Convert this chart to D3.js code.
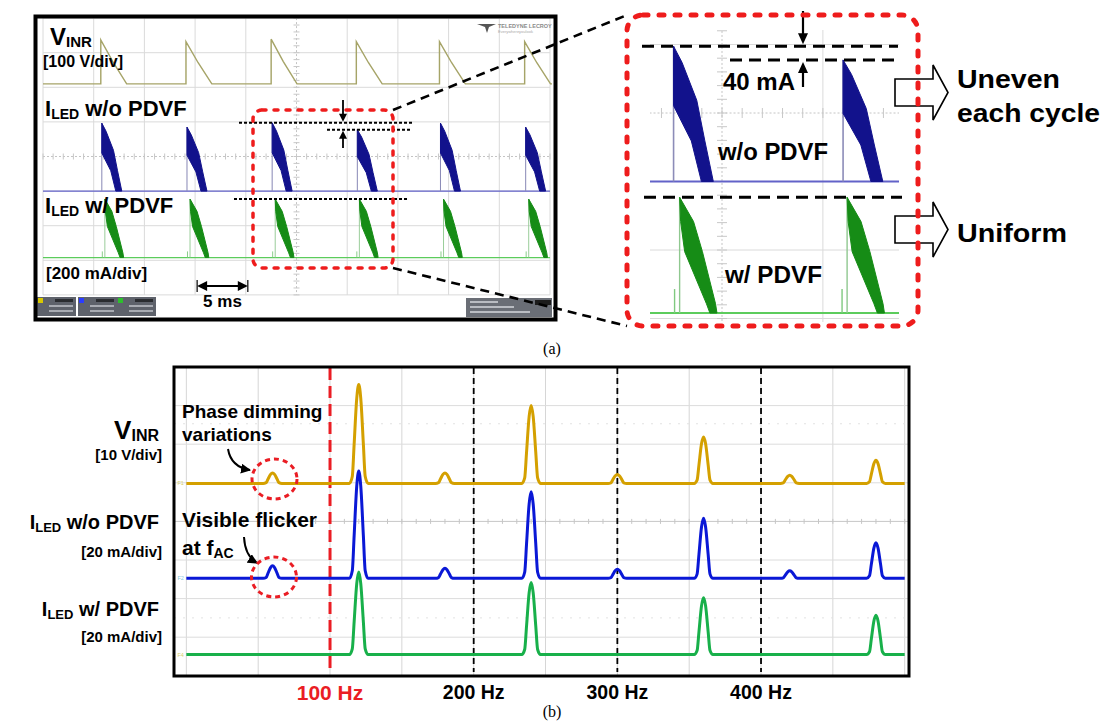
<!DOCTYPE html>
<html>
<head>
<meta charset="utf-8">
<script src="https://cdn.jsdelivr.net/npm/d3@7"></script>
<style>
  html, body { margin: 0; padding: 0; background: #fff; }
  svg { display: block; }
</style>
</head>
<body>
<svg id="fig" width="1105" height="721"></svg>
<script>
// ---------------- data: (a) time-domain capture ----------------
// pulse start times (ms) and per-cycle peak of each trace
const vinrStartMs      = [5.7, 14.1, 22.5, 30.9, 39.1, 47.5];
const vinrPeakV        = [127, 122, 129, 122, 122, 122];
const noPdvfStartMs    = [5.8, 14.2, 22.6, 31.0, 39.2, 47.6];
const noPdvfPeakMA     = [393, 370, 395, 355, 393, 370];
const pdvfStartMs      = [6.1, 14.5, 22.9, 31.2, 39.5, 47.9];
const pdvfPeakMA       = [338, 338, 338, 338, 338, 338];
const pdvfSpikeMA      = 70;
const peakGapMA        = 40;   // difference between cycle 3 and cycle 4 of I_LED w/o PDVF

// pulse envelopes: [ms after start, fraction of that cycle's peak]
const vinrShape   = [[0, 1], [1.2, 0.5], [2.55, 0]];
const noPdvfUpper = [[0, 1], [0.42, 0.88], [1.15, 0.6], [1.55, 0.3], [1.97, 0]];
const noPdvfLower = [[0, 1], [0, 0.56], [0.88, 0.3], [1.38, 0]];
const pdvfUpper   = [[0, 1], [0.69, 0.79], [1.13, 0.53], [1.78, 0.08], [1.85, 0]];
const pdvfLower   = [[0, 1], [0.05, 0.79], [0.25, 0.53], [1.33, 0.08], [1.5, 0]];

// ---------------- data: (b) spectrum ----------------
const specFreqHz   = [60, 120, 180, 240, 300, 360, 420, 480];
const vinrSpecV    = [2.7, 25.6, 2.7, 20.2, 2.3, 12.0, 2.1, 6.0];
const noPdvfSpecMA = [6.5, 55.6, 5.2, 44.9, 4.7, 31.1, 3.9, 18.4];
const pdvfSpecMA   = [0, 42.8, 0, 37.3, 0, 29.5, 0, 20.4];
const freqTicksHz  = [100, 200, 300, 400];
const freqTickText = ["100 Hz", "200 Hz", "300 Hz", "400 Hz"];
// spectral line shape: [Hz offset, fraction of amplitude]
const peakProfile  = [[-6.5, 0], [-4.5, 0.07], [-3.2, 0.4], [-1.4, 0.86], [0, 1], [1.4, 0.86], [3.2, 0.4], [4.5, 0.07], [6.5, 0]];

// ---------------- helpers ----------------
const SANS = "'Liberation Sans', Arial, Helvetica, sans-serif";
const SERIF = "'Liberation Serif', 'Times New Roman', serif";
const svg = d3.select("#fig");
const defs = svg.append("defs");

function addText(parent, x, y, parts, o = {}) {
  const t = parent.append("text").attr("x", x).attr("y", y)
    .attr("font-family", o.family || SANS)
    .attr("font-weight", o.weight == null ? 700 : o.weight)
    .attr("fill", o.fill || "#000")
    .attr("text-anchor", o.anchor || "start");
  let prev = 0;
  parts.forEach(([s, size, shift = 0]) => {
    t.append("tspan").attr("dy", shift - prev).attr("font-size", size).text(s);
    prev = shift;
  });
  if (o.len) t.attr("textLength", o.len).attr("lengthAdjust", "spacingAndGlyphs");
  return t;
}

function solidArrow(g, x, yFrom, yTo, head = 9, half = 4.5, w = 2) {
  const dir = yTo > yFrom ? 1 : -1;
  g.append("line").attr("x1", x).attr("x2", x).attr("y1", yFrom).attr("y2", yTo - dir * head * 0.8)
    .attr("stroke", "#000").attr("stroke-width", w);
  g.append("path").attr("d", `M${x - half},${yTo - dir * head}L${x + half},${yTo - dir * head}L${x},${yTo}Z`)
    .attr("fill", "#000");
}

function blockArrow(g, x0, x1, tip, yc, bh, hh) {
  g.append("path")
    .attr("d", `M${x0},${yc - bh}H${x1}V${yc - hh}L${tip},${yc}L${x1},${yc + hh}V${yc + bh}H${x0}Z`)
    .attr("fill", "#fff").attr("stroke", "#000").attr("stroke-width", 1.6);
}

// ================= (a) oscilloscope capture =================
const scopeT = [0, 50];                         // 10 divisions x 5 ms
const channels = {
  vinr:   { offset: 2.1,   perDiv: 100 },
  noPdvf: { offset: -1.0,  perDiv: 200 },
  pdvf:   { offset: -2.92, perDiv: 200 }
};

function chanScale(view, ch) {
  const base = view.yc - ch.offset * view.div;
  return d3.scaleLinear().domain([0, ch.perDiv]).range([base, base - view.div]);
}

const leftView = {
  x: d3.scaleLinear().domain(scopeT).range([43, 550]),
  yc: 156.5, div: 34.6, lw: 1.3, tick: 3
};
const zx = 1.99, zy = 1.98;
const zoomView = {
  x: d3.scaleLinear().domain(scopeT).range([722 - 253.5 * zx, 722 + 253.5 * zx]),
  yc: 113, div: 34.6 * zy, lw: 2, tick: 5
};

function drawGrid(g, v) {
  const top = v.yc - 4 * v.div, bot = v.yc + 4 * v.div;
  const xl = v.x(scopeT[0]), xr = v.x(scopeT[1]);
  d3.range(0, 51, 5).forEach(t => {
    const center = t === 25;
    g.append("line").attr("x1", v.x(t)).attr("x2", v.x(t)).attr("y1", top).attr("y2", bot)
      .attr("stroke", center ? "#c4c4c4" : "#dadada").attr("stroke-width", 1)
      .attr("stroke-dasharray", center ? "2,2" : null);
  });
  d3.range(-4, 5).forEach(d => {
    const y = v.yc - d * v.div;
    g.append("line").attr("x1", xl).attr("x2", xr).attr("y1", y).attr("y2", y)
      .attr("stroke", d === 0 ? "#c4c4c4" : "#dadada").attr("stroke-width", 1)
      .attr("stroke-dasharray", d === 0 ? "2,2" : null);
  });
  // minor ticks along the centre lines
  d3.range(0, 50.01, 1).forEach(t => {
    g.append("line").attr("x1", v.x(t)).attr("x2", v.x(t))
      .attr("y1", v.yc - v.tick).attr("y2", v.yc + v.tick)
      .attr("stroke", "#c8c8c8").attr("stroke-width", 1);
  });
  d3.range(-4, 4.01, 0.2).forEach(d => {
    const y = v.yc - d * v.div;
    g.append("line").attr("x1", v.x(25) - v.tick).attr("x2", v.x(25) + v.tick)
      .attr("y1", y).attr("y2", y).attr("stroke", "#c8c8c8").attr("stroke-width", 1);
  });
}

function drawTraces(g, v) {
  const yV = chanScale(v, channels.vinr);
  const yB = chanScale(v, channels.noPdvf);
  const yG = chanScale(v, channels.pdvf);
  const line = (ys) => d3.line().x(d => v.x(d[0])).y(d => ys(d[1]));

  // V_INR: phase-cut input voltage
  const vPts = [[scopeT[0], 0]];
  vinrStartMs.forEach((s, i) => {
    vPts.push([s, 0]);
    vinrShape.forEach(([dt, f]) => vPts.push([s + dt, f * vinrPeakV[i]]));
  });
  vPts.push([scopeT[1] + 3, 0]);
  g.append("path").attr("d", line(yV)(vPts)).attr("fill", "none")
    .attr("stroke", "#a6a468").attr("stroke-width", v.lw * 1.1);

  // I_LED without PDVF
  g.append("path").attr("d", line(yB)([[scopeT[0], 0], [scopeT[1], 0]]))
    .attr("stroke", "#6262c8").attr("stroke-width", v.lw).attr("fill", "none");
  noPdvfStartMs.forEach((s, i) => {
    const pk = noPdvfPeakMA[i];
    g.append("path").attr("d", line(yB)([[s, 0], [s, pk]]))
      .attr("stroke", "#8c8cb8").attr("stroke-width", v.lw * 0.8);
    const poly = noPdvfUpper.map(([dt, f]) => [s + dt, f * pk])
      .concat(noPdvfLower.slice().reverse().map(([dt, f]) => [s + dt, f * pk]));
    g.append("path").attr("d", line(yB)(poly) + "Z").attr("fill", "#12128c")
      .attr("stroke", "#12128c").attr("stroke-width", 1).attr("stroke-linejoin", "round");
  });

  // I_LED with PDVF
  g.append("path").attr("d", line(yG)([[scopeT[0], 0], [scopeT[1], 0]]))
    .attr("stroke", "#5ccc5c").attr("stroke-width", v.lw).attr("fill", "none");
  pdvfStartMs.forEach((s, i) => {
    const pk = pdvfPeakMA[i];
    g.append("path").attr("d", line(yG)([[s - 0.25, 0], [s - 0.25, pdvfSpikeMA * v.div / 68.5]]))
      .attr("stroke", "#7fc97f").attr("stroke-width", v.lw * 0.7);
    g.append("path").attr("d", line(yG)([[s, 0], [s, pk]]))
      .attr("stroke", "#8fc88f").attr("stroke-width", v.lw * 0.7);
    const poly = pdvfUpper.map(([dt, f]) => [s + dt, f * pk])
      .concat(pdvfLower.slice().reverse().map(([dt, f]) => [s + dt, f * pk]));
    g.append("path").attr("d", line(yG)(poly) + "Z").attr("fill", "#168c16")
      .attr("stroke", "#168c16").attr("stroke-width", 1).attr("stroke-linejoin", "round");
  });
}

// clip regions for the two views
defs.append("clipPath").attr("id", "clipLeft").append("rect")
  .attr("x", 40).attr("y", 17).attr("width", 512).attr("height", 279);
defs.append("clipPath").attr("id", "clipZoom").append("rect")
  .attr("x", 650).attr("y", 30).attr("width", 249).attr("height", 292);

// left capture
const gLeft = svg.append("g");
drawGrid(gLeft.append("g"), leftView);
drawTraces(gLeft.append("g").attr("clip-path", "url(#clipLeft)"), leftView);

// status bar boxes at bottom of the screen
const bar = gLeft.append("g");
[[37, "#d8c800"], [78, "#2a3cff"], [117, "#2cc02c"]].forEach(([x, c]) => {
  bar.append("rect").attr("x", x).attr("y", 297).attr("width", 39).attr("height", 19).attr("fill", "#5e626b");
  bar.append("rect").attr("x", x + 1).attr("y", 298).attr("width", 5).attr("height", 5).attr("fill", c);
  bar.append("rect").attr("x", x + 18).attr("y", 299).attr("width", 18).attr("height", 3).attr("fill", "#2a2c30");
  [305, 310].forEach(y => bar.append("rect").attr("x", x + 12).attr("y", y).attr("width", 24).attr("height", 2).attr("fill", "#a8abb2"));
});
bar.append("rect").attr("x", 466).attr("y", 298).attr("width", 86).attr("height", 19).attr("fill", "#6a6e76");
bar.append("rect").attr("x", 535).attr("y", 300).attr("width", 16).attr("height", 5).attr("fill", "#1c1c1c");
[[470, 301, 28], [470, 306, 44], [470, 311, 60]].forEach(([x, y, w]) =>
  bar.append("rect").attr("x", x).attr("y", y).attr("width", w).attr("height", 2).attr("fill", "#b9bcc2"));

// maker's badge, top right of the screen
gLeft.append("path").attr("d", "M477,24L496,24L489,27L487,33L485,27Z").attr("fill", "#555");
addText(gLeft, 498, 28, [["TELEDYNE LECROY", 5.5]], { fill: "#8a8a8a" });
addText(gLeft, 498, 32.5, [["Everywhereyoulook", 4]], { fill: "#aaa", weight: 400 });

// screen frame
gLeft.append("rect").attr("x", 35.5).attr("y", 16.5).attr("width", 520).attr("height", 303)
  .attr("fill", "none").attr("stroke", "#000").attr("stroke-width", 4);

// channel labels
addText(svg, 50, 45, [["V", 24], ["INR", 15, 2]]);
addText(svg, 43, 67, [["[100 V/div]", 16]]);
addText(svg, 45, 116, [["I", 22], ["LED", 14, 3], [" w/o PDVF", 22, 0]]);
addText(svg, 45, 213, [["I", 22], ["LED", 14, 3], [" w/ PDVF", 22, 0]]);
addText(svg, 46, 279, [["[200 mA/div]", 17]]);

// 5 ms time marker
const tm = svg.append("g");
const tA = leftView.x(15.2), tB = tA + (leftView.x(5) - leftView.x(0));
tm.append("line").attr("x1", tA + 6).attr("x2", tB - 6).attr("y1", 286).attr("y2", 286).attr("stroke", "#000").attr("stroke-width", 2);
tm.append("path").attr("d", `M${tA},286L${tA + 10},281L${tA + 10},291Z`).attr("fill", "#000");
tm.append("path").attr("d", `M${tB},286L${tB - 10},281L${tB - 10},291Z`).attr("fill", "#000");
[tA, tB].forEach(x => tm.append("line").attr("x1", x).attr("x2", x).attr("y1", 280).attr("y2", 292).attr("stroke", "#000").attr("stroke-width", 1.2));
addText(svg, (tA + tB) / 2, 307, [["5 ms", 17]], { anchor: "middle" });

// peak-difference markers on the left capture
const yBl = chanScale(leftView, channels.noPdvf);
const yGl = chanScale(leftView, channels.pdvf);
const hiPk = noPdvfPeakMA[2], loPk = hiPk - peakGapMA;
const ann = svg.append("g");
[[239, 412, yBl(hiPk)], [327, 412, yBl(loPk)], [234, 408, yGl(pdvfPeakMA[0])]].forEach(([a, b, y]) =>
  ann.append("line").attr("x1", a).attr("x2", b).attr("y1", y).attr("y2", y)
    .attr("stroke", "#000").attr("stroke-width", 2).attr("stroke-dasharray", "3,2"));
solidArrow(ann, 343, 100, yBl(hiPk) - 1, 8, 4, 1.8);
solidArrow(ann, 343, 148, yBl(loPk) + 1, 8, 4, 1.8);

// region that is magnified on the right
svg.append("rect").attr("x", 253).attr("y", 110).attr("width", 140).attr("height", 158).attr("rx", 9)
  .attr("fill", "none").attr("stroke", "#ee1c1c").attr("stroke-width", 3.5)
  .attr("stroke-dasharray", "4,8").attr("stroke-linecap", "round");

// connector lines to the magnified view
[[393, 110, 627, 15], [393, 268, 627, 326]].forEach(([a, b, c, d]) =>
  svg.append("line").attr("x1", a).attr("y1", b).attr("x2", c).attr("y2", d)
    .attr("stroke", "#000").attr("stroke-width", 2.6).attr("stroke-dasharray", "9,6"));

// magnified view
const gZoom = svg.append("g");
gZoom.append("rect").attr("x", 630).attr("y", 18).attr("width", 285).attr("height", 305).attr("rx", 14).attr("fill", "#fff");
const gZc = gZoom.append("g").attr("clip-path", "url(#clipZoom)");
drawGrid(gZc.append("g"), zoomView);
drawTraces(gZc.append("g"), zoomView);

const yBz = chanScale(zoomView, channels.noPdvf);
const yGz = chanScale(zoomView, channels.pdvf);
[[642, 898, yBz(hiPk)], [730, 898, yBz(loPk)], [644, 902, yGz(pdvfPeakMA[0])]].forEach(([a, b, y]) =>
  gZoom.append("line").attr("x1", a).attr("x2", b).attr("y1", y).attr("y2", y)
    .attr("stroke", "#000").attr("stroke-width", 3).attr("stroke-dasharray", "12,7"));
solidArrow(gZoom, 803, 11, yBz(hiPk) - 2, 11, 5, 2.2);
solidArrow(gZoom, 803, 87, yBz(loPk) + 2, 11, 5, 2.2);
addText(gZoom, 723, 90, [["40 mA", 24]]);
addText(gZoom, 718, 160, [["w/o PDVF", 23]], { len: 110 });
addText(gZoom, 725, 283, [["w/ PDVF", 24]], { len: 97 });

blockArrow(svg, 895, 933, 948, 92.5, 13.5, 27.5);
blockArrow(svg, 895, 933, 948, 229.5, 13.5, 27.5);
addText(svg, 957, 88, [["Uneven", 25]], { len: 103 });
addText(svg, 957, 122, [["each cycle", 25]], { len: 143 });
addText(svg, 957, 242, [["Uniform", 26]], { len: 110 });

svg.append("rect").attr("x", 627).attr("y", 15).attr("width", 291).attr("height", 311).attr("rx", 16)
  .attr("fill", "none").attr("stroke", "#ee1c1c").attr("stroke-width", 5)
  .attr("stroke-dasharray", "5,11").attr("stroke-linecap", "round");

addText(svg, 552, 354, [["(a)", 16]], { family: SERIF, weight: 400, anchor: "middle" });

// ================= (b) spectrum =================
const spec = { x0: 174, x1: 909, y0: 367, y1: 676, divPx: 38.6 };
const xF = d3.scaleLinear().domain([-8.6, 503]).range([spec.x0, spec.x1]);
const gS = svg.append("g");

// screen grid
d3.range(0, 501, 50).forEach(f =>
  gS.append("line").attr("x1", xF(f)).attr("x2", xF(f)).attr("y1", spec.y0).attr("y2", spec.y1)
    .attr("stroke", "#d6d6d6").attr("stroke-width", 1));
d3.range(1, 8).forEach(k => {
  const y = spec.y0 + k * spec.divPx;
  gS.append("line").attr("x1", spec.x0).attr("x2", spec.x1).attr("y1", y).attr("y2", y)
    .attr("stroke", k === 4 ? "#c6c6c6" : "#dcdcdc").attr("stroke-width", 1);
});
d3.range(0, 500.1, 10).forEach(f =>
  gS.append("line").attr("x1", xF(f)).attr("x2", xF(f))
    .attr("y1", spec.y0 + 4 * spec.divPx - 2.5).attr("y2", spec.y0 + 4 * spec.divPx + 2.5)
    .attr("stroke", "#c6c6c6"));
[spec.y0 + 1.47 * spec.divPx, spec.y0 + 6.5 * spec.divPx].forEach(y =>
  gS.append("line").attr("x1", spec.x0).attr("x2", spec.x1).attr("y1", y).attr("y2", y)
    .attr("stroke", "#e2e2e2").attr("stroke-dasharray", "2,7"));

// frequency markers
freqTicksHz.forEach((f, i) => {
  const red = i === 0;
  gS.append("line").attr("x1", xF(f)).attr("x2", xF(f)).attr("y1", spec.y0 + 1).attr("y2", spec.y1 - 4)
    .attr("stroke", red ? "#ea1d24" : "#000").attr("stroke-width", red ? 3 : 1.8)
    .attr("stroke-dasharray", red ? "12,6" : "6,4");
  addText(gS, xF(f), red ? 700 : 699, [[freqTickText[i], red ? 21 : 19.5]],
    { anchor: "middle", fill: red ? "#ea1d24" : "#000" });
});

// spectrum traces
const specChannels = [
  { vals: vinrSpecV,    perDiv: 10, baseDiv: 3.015, color: "#d4a000", tag: "F1", tagColor: "#d6cf70" },
  { vals: noPdvfSpecMA, perDiv: 20, baseDiv: 5.475, color: "#0a18d6", tag: "F2", tagColor: "#86c8e0" },
  { vals: pdvfSpecMA,   perDiv: 20, baseDiv: 7.45,  color: "#18b04a", tag: "F4", tagColor: "#d6cf70" }
];
specChannels.forEach(ch => {
  const base = spec.y0 + ch.baseDiv * spec.divPx;
  const y = d3.scaleLinear().domain([0, ch.perDiv]).range([base, base - spec.divPx]);
  const pts = [[0, 0]];
  specFreqHz.forEach((f, i) => {
    if (ch.vals[i] > 0) peakProfile.forEach(([df, k]) => pts.push([f + df, k * ch.vals[i]]));
  });
  pts.push([500, 0]);
  gS.append("path")
    .attr("d", d3.line().x(d => xF(d[0])).y(d => y(d[1])).curve(d3.curveMonotoneX)(pts))
    .attr("fill", "none").attr("stroke", ch.color).attr("stroke-width", 3)
    .attr("stroke-linejoin", "round");
  addText(gS, 177.5, base + 2, [[ch.tag, 5.5]], { fill: ch.tagColor, weight: 400 });
});

gS.append("rect").attr("x", spec.x0).attr("y", spec.y0).attr("width", spec.x1 - spec.x0).attr("height", spec.y1 - spec.y0)
  .attr("fill", "none").attr("stroke", "#000").attr("stroke-width", 3);

// trace labels
addText(svg, 159, 439, [["V", 26], ["INR", 16, 2]], { anchor: "end" });
addText(svg, 162, 460, [["[10 V/div]", 15]], { anchor: "end" });
addText(svg, 159, 529, [["I", 20], ["LED", 13, 3], [" w/o PDVF", 20, 0]], { anchor: "end" });
addText(svg, 162, 557, [["[20 mA/div]", 15]], { anchor: "end" });
addText(svg, 159, 616, [["I", 20], ["LED", 13, 3], [" w/ PDVF", 20, 0]], { anchor: "end" });
addText(svg, 162, 642, [["[20 mA/div]", 15]], { anchor: "end" });

// callouts
defs.append("marker").attr("id", "head").attr("viewBox", "0 0 10 10").attr("refX", 9).attr("refY", 5)
  .attr("markerWidth", 5).attr("markerHeight", 5).attr("orient", "auto")
  .append("path").attr("d", "M0,0L10,5L0,10Z").attr("fill", "#000");
addText(svg, 182, 418, [["Phase dimming", 19]]);
addText(svg, 182, 441, [["variations", 19]]);
addText(svg, 182, 527, [["Visible flicker", 21]]);
addText(svg, 182, 555, [["at f", 21], ["AC", 14, 3]]);
svg.append("path").attr("d", "M228,449Q231,467 250,470").attr("fill", "none")
  .attr("stroke", "#000").attr("stroke-width", 2).attr("marker-end", "url(#head)");
svg.append("path").attr("d", "M244,537Q245,556 257,563").attr("fill", "none")
  .attr("stroke", "#000").attr("stroke-width", 2).attr("marker-end", "url(#head)");
[[274.5, 479], [274, 577]].forEach(([cx, cy]) =>
  svg.append("ellipse").attr("cx", cx).attr("cy", cy).attr("rx", 22.5).attr("ry", 20)
    .attr("fill", "none").attr("stroke", "#ea1d24").attr("stroke-width", 3)
    .attr("stroke-dasharray", "5,4"));

addText(svg, 552, 717, [["(b)", 16]], { family: SERIF, weight: 400, anchor: "middle" });
</script>
</body>
</html>
